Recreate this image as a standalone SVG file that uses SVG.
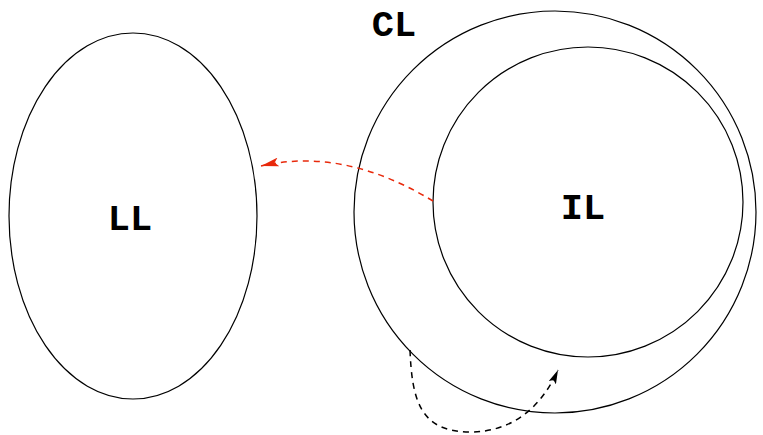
<svg xmlns="http://www.w3.org/2000/svg" width="763" height="435" viewBox="0 0 763 435">
<style>
.n{fill:none;stroke:#000;stroke-width:1.2}
.t{font-family:"Liberation Mono","Courier New",monospace;font-weight:bold;font-size:37px;fill:#000;text-anchor:middle}
.c{fill:none;stroke-width:1.5;stroke-dasharray:6,5}
</style>
<defs>
<marker id="ar" viewBox="0 0 18 9" refX="18" refY="4.5" markerWidth="18" markerHeight="9" markerUnits="userSpaceOnUse" orient="auto">
<path d="M0,0 L18,4.5 L0,9 L4,4.5 Z" fill="#e8290b"/>
</marker>
<marker id="ab" viewBox="0 0 14 8" refX="14" refY="4" markerWidth="14" markerHeight="8" markerUnits="userSpaceOnUse" orient="auto">
<path d="M0,0 L14,4 L0,8 L3,4 Z" fill="#000"/>
</marker>
</defs>
<g id="LL"><ellipse class="n" cx="133" cy="216" rx="124" ry="183"/><text class="t" x="130" y="230">LL</text></g>
<g id="CL"><circle class="n" cx="555" cy="212" r="201"/><text class="t" x="394" y="36">CL</text></g>
<g id="IL"><circle class="n" cx="588" cy="202" r="155"/><text class="t" x="583" y="219">IL</text></g>
<g id="connectors">
<path class="c" stroke="#e8290b" d="M433,201 C390,175 330,150 261,166" marker-end="url(#ar)"/>
<path class="c" stroke="#000" d="M410,350 C412,400 420,432 470,432 C510,432 540,410 558,370" marker-end="url(#ab)"/>
</g>
</svg>
